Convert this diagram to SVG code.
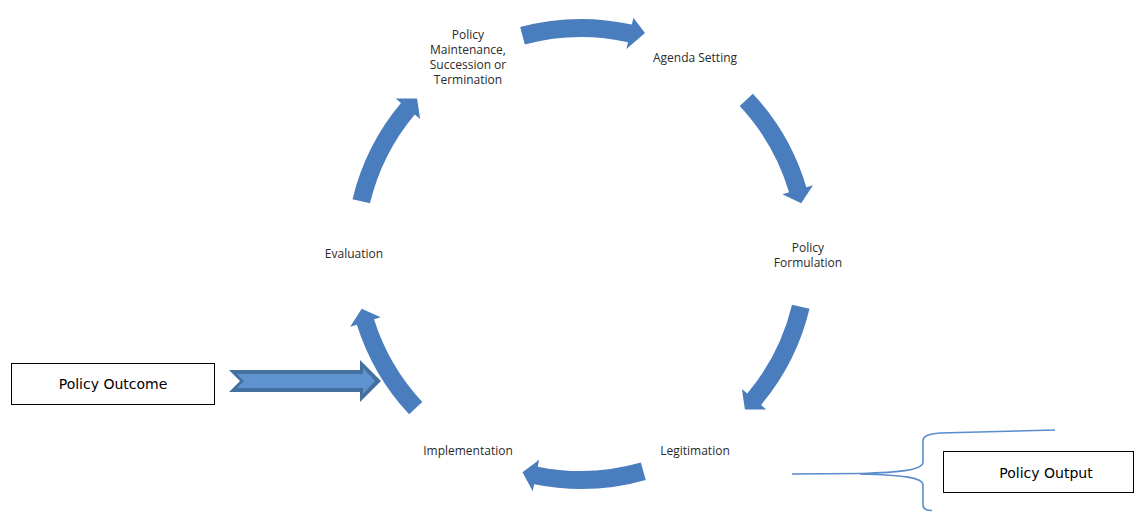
<svg xmlns="http://www.w3.org/2000/svg" width="1135" height="512" viewBox="0 0 1135 512">
  <style>
    .lbl { font-family: "Open Sans", "Liberation Sans", sans-serif; font-size: 12px; fill: #2a2a2a; text-anchor: middle; }
    .box { fill: #ffffff; stroke: #000000; stroke-width: 1; }
    .boxtxt { font-family: "DejaVu Sans", "Liberation Sans", sans-serif; font-size: 14px; fill: #000000; text-anchor: middle; }
    .cyc { fill: #4a7dbd; stroke: none; }
    .brace { fill: none; stroke: #5b8ccc; stroke-width: 1.6; }
  </style>
  <rect width="1135" height="512" fill="#ffffff"/>

  <g id="connectors">
    <path class="cyc" d="M520.18,27 A235,235 0 0 1 631.86,24.57 L633.37,17.74 L645,33 L626.44,48.98 L627.96,42.14 A217,217 0 0 0 524.84,44.4 Z"/>
    <path class="cyc" d="M752.88,93.73 A235,235 0 0 1 806.32,187.26 L813.03,185.27 L801.21,203.15 L782.35,194.36 L789.06,192.37 A217,217 0 0 0 739.71,106.01 Z"/>
    <path class="cyc" d="M809.51,308.85 A235,235 0 0 1 761.01,405.06 L766.37,409.56 L744.94,409.58 L741.86,388.99 L747.22,393.49 A217,217 0 0 0 792.01,304.65 Z"/>
    <path class="cyc" d="M645.77,479.91 A235,235 0 0 1 534.14,484.28 L532.75,491.14 L522.51,472.29 L539.13,459.78 L537.73,466.64 A217,217 0 0 0 640.81,462.6 Z"/>
    <path class="cyc" d="M409.12,414.27 A235,235 0 0 1 356.88,324.66 L350.2,326.77 L361.71,308.67 L380.72,317.15 L374.05,319.25 A217,217 0 0 0 422.29,401.99 Z"/>
    <path class="cyc" d="M352.49,199.15 A235,235 0 0 1 400.99,102.94 L395.63,98.44 L417.06,98.42 L420.14,119.01 L414.78,114.51 A217,217 0 0 0 369.99,203.35 Z"/>
    <g id="outcome-arrow">
      <path fill="#44709f" d="M229,370 L360,370 L360,360 L381,381 L360,402 L360,392 L229,392 L240,381 Z"/>
      <path fill="#5f93cf" d="M237,374 L363,374 L363,368 L375,381 L363,394 L363,388 L237,388 L244,381 Z"/>
    </g>
    <g id="output-brace">
      <path class="brace" d="M792,474 L860,473.5 C900,472.5 923,470 923,462 L923,441 C923,436 928,434 940,433 L1055,430"/>
      <path class="brace" d="M860,474 C900,475 923,477 923,485 L923,505 C923,509 926,510.5 932,510.5"/>
    </g>
  </g>

  <g id="node-maintenance">
    <text class="lbl" x="468" y="39">Policy</text>
    <text class="lbl" x="468" y="54">Maintenance,</text>
    <text class="lbl" x="468" y="69">Succession or</text>
    <text class="lbl" x="468" y="84">Termination</text>
  </g>
  <g id="node-agenda">
    <text class="lbl" x="695" y="62">Agenda Setting</text>
  </g>
  <g id="node-formulation">
    <text class="lbl" x="808" y="252">Policy</text>
    <text class="lbl" x="808" y="267">Formulation</text>
  </g>
  <g id="node-legitimation">
    <text class="lbl" x="695" y="455">Legitimation</text>
  </g>
  <g id="node-implementation">
    <text class="lbl" x="468" y="455">Implementation</text>
  </g>
  <g id="node-evaluation">
    <text class="lbl" x="354" y="258">Evaluation</text>
  </g>
  <g id="node-outcome">
    <rect class="box" x="11.5" y="363.5" width="203" height="41"/>
    <text class="boxtxt" x="113" y="388.5">Policy Outcome</text>
  </g>
  <g id="node-output">
    <rect class="box" x="943.5" y="451.5" width="190" height="41"/>
    <text class="boxtxt" x="1046" y="477.5">Policy Output</text>
  </g>
</svg>
